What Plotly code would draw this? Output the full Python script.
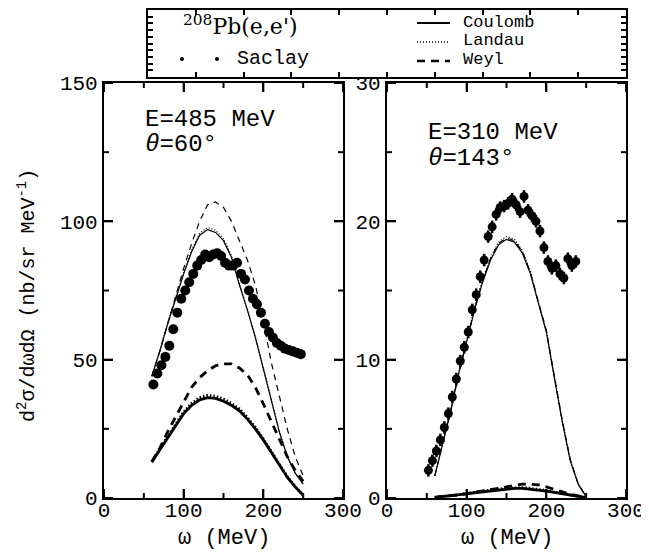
import plotly.graph_objects as go

# ---------------- data ----------------
omega_theory = [60, 70, 80, 90, 100, 110, 120, 130, 140, 150, 160, 170, 180, 190, 200, 210, 220, 230, 240, 250]

# E=485 MeV, theta=60 deg
omega_saclay_485 = [62, 67, 72, 77, 82, 87, 92, 97, 102, 107, 112, 117, 122, 127, 132, 137, 142, 147, 152,
                    157, 162, 167, 172, 177, 182, 187, 192, 197, 202, 207, 212, 217, 222, 227, 232, 237, 242, 247]
xs_saclay_485 = [41, 45, 48, 51, 55, 61, 67, 72, 75, 78, 81, 84, 86, 88, 87, 88, 88.5, 87.5, 85,
                 84, 84, 85, 81, 79, 75, 72, 70, 67, 63, 60, 58, 56, 55, 54, 53.5, 53, 52.5, 52]
coulomb_485_thin = [44, 53, 63, 72, 81, 89, 95, 97, 96, 93, 87, 77, 68, 58, 47, 35, 24, 15, 9, 5]
landau_485_thin = [44, 53.2, 63.3, 72.4, 81.5, 89.6, 95.7, 97.8, 96.8, 93.7, 87.6, 77.5, 68.3, 58.2, 47.1, 35.1, 24.1, 15.1, 9.1, 5.1]
weyl_485_thin = [44, 53, 63, 73, 83, 92, 100, 106, 107, 105, 100, 93, 86, 77, 64, 49, 37, 25, 15, 8]
coulomb_485_thick = [13, 17.5, 22, 26.5, 30.5, 33.5, 35.5, 36.3, 36, 35, 33.5, 31.5, 28.5, 25, 21, 16.5, 12, 7.5, 4, 1]
landau_485_thick = [13.2, 17.8, 22.4, 27, 31.1, 34.2, 36.3, 37.1, 36.8, 35.8, 34.2, 32.2, 29.1, 25.5, 21.4, 16.8, 12.2, 7.7, 4.1, 1.1]
weyl_485_thick = [13, 18, 24, 29.5, 35, 40, 43.5, 46, 47.8, 48.5, 48.5, 47, 44.5, 40, 34, 27.5, 21, 15, 10, 6]

# E=310 MeV, theta=143 deg
omega_saclay_310 = [52, 57, 62, 67, 72, 77, 82, 87, 92, 97, 102, 107, 112, 117, 122, 127, 132, 137, 142,
                    147, 152, 157, 162, 167, 172, 177, 182, 187, 192, 197, 202, 207, 212, 217, 222, 227, 232, 237]
xs_saclay_310 = [2.0, 2.7, 3.4, 4.2, 5.1, 6.1, 7.3, 8.6, 9.9, 10.9, 12.0, 13.6, 14.7, 16.0, 17.2, 18.9, 19.6, 20.5, 21.0,
                 21.1, 21.3, 21.6, 21.2, 20.7, 21.8, 20.8, 20.4, 20.0, 19.3, 18.1, 17.1, 16.6, 16.8, 16.2, 15.9, 17.3, 16.8, 17.1]
err_saclay_310 = [0.45] * len(xs_saclay_310)
coulomb_310_thin = [1.6, 3.9, 6.3, 9.0, 11.4, 13.6, 15.6, 17.2, 18.3, 18.7, 18.5, 17.7, 16.2, 14.0, 12.0, 8.7, 5.5, 2.7, 1.0, 0.1]
landau_310_thin = [1.6, 3.9, 6.4, 9.1, 11.5, 13.8, 15.8, 17.4, 18.5, 18.9, 18.7, 17.9, 16.4, 14.1, 12.1, 8.8, 5.6, 2.8, 1.0, 0.1]
weyl_310_thin = [1.6, 3.9, 6.3, 9.0, 11.4, 13.7, 15.7, 17.3, 18.4, 18.8, 18.6, 17.8, 16.3, 14.1, 12.1, 8.8, 5.6, 2.8, 1.0, 0.1]
coulomb_310_thick = [0.05, 0.1, 0.15, 0.22, 0.3, 0.38, 0.45, 0.53, 0.6, 0.66, 0.7, 0.7, 0.65, 0.58, 0.5, 0.4, 0.3, 0.2, 0.1, 0.02]
landau_310_thick = [0.05, 0.1, 0.16, 0.24, 0.32, 0.41, 0.49, 0.57, 0.65, 0.71, 0.75, 0.75, 0.7, 0.63, 0.54, 0.43, 0.32, 0.21, 0.11, 0.03]
weyl_310_thick = [0.05, 0.1, 0.15, 0.23, 0.32, 0.41, 0.5, 0.6, 0.7, 0.8, 0.9, 1.0, 1.0, 0.95, 0.8, 0.62, 0.45, 0.28, 0.15, 0.05]

x_ticks = [0, 100, 200, 300]
y_ticks_485 = [0, 50, 100, 150]
y_ticks_310 = [0, 10, 20, 30]

# ---------------- figure ----------------
MONO = "Liberation Mono"
SERIF = "DejaVu Serif"
OFF = 8                      # page body margin of the HTML output
W, H = 649 - OFF, 552 - OFF
ML, MR, MT, MB = 104 - OFF, 23, 10 - OFF, 54
PW, PH = W - ML - MR, H - MT - MB


def px(xp):   # picture pixel x -> paper
    return (xp - OFF - ML) / PW


def py(yp):   # picture pixel y -> paper
    return (H - MB - (yp - OFF)) / PH


fig = go.Figure()

THIN, THICK = 1.2, 2.8


def add_curves(xa, ya, c_thin, l_thin, w_thin, c_thick, l_thick, w_thick):
    specs = [
        (c_thin, THIN, "solid"), (l_thin, THIN, "1px,2px"), (w_thin, THIN, "6px,5px"),
        (c_thick, THICK, "solid"), (l_thick, THICK, "1.5px,2px"), (w_thick, THICK, "8px,6px"),
    ]
    for ys, wdt, dash in specs:
        fig.add_trace(go.Scatter(x=omega_theory, y=ys, mode="lines", xaxis=xa, yaxis=ya,
                                 line=dict(color="black", width=wdt, dash=dash),
                                 showlegend=False, hoverinfo="skip"))


add_curves("x", "y", coulomb_485_thin, landau_485_thin, weyl_485_thin,
           coulomb_485_thick, landau_485_thick, weyl_485_thick)
fig.add_trace(go.Scatter(x=omega_saclay_485, y=xs_saclay_485, mode="markers", xaxis="x", yaxis="y",
                         marker=dict(color="black", size=10, line=dict(width=0)), showlegend=False))

add_curves("x2", "y2", coulomb_310_thin, landau_310_thin, weyl_310_thin,
           coulomb_310_thick, landau_310_thick, weyl_310_thick)
fig.add_trace(go.Scatter(x=omega_saclay_310, y=xs_saclay_310, mode="markers", xaxis="x2", yaxis="y2",
                         error_y=dict(type="data", array=err_saclay_310, color="black", thickness=2.5, width=0),
                         marker=dict(color="black", size=9, line=dict(width=0)), showlegend=False))

# empty trace so that the legend frame axes are drawn
fig.add_trace(go.Scatter(x=[], y=[], xaxis="x3", yaxis="y3", showlegend=False, hoverinfo="skip"))

panel_top = py(83)
xdom1 = [0, px(343)]
xdom2 = [px(387), 1]

tickfont = dict(family=MONO, size=21, color="black")
frame = dict(showline=True, linecolor="black", linewidth=2.2, mirror="allticks",
             ticks="inside", ticklen=9, tickwidth=2, tickcolor="black",
             showgrid=False, zeroline=False)

fig.update_layout(
    template="none",
    width=W, height=H, margin=dict(l=ML, r=MR, t=MT, b=MB),
    paper_bgcolor="white", plot_bgcolor="white", showlegend=False,
    xaxis=dict(domain=xdom1, range=[0, 300], tickmode="array", tickvals=x_ticks,
               anchor="y", ticklabelstandoff=-8, tickfont=tickfont, **frame),
    yaxis=dict(domain=[0, panel_top], range=[0, 150], tickmode="array", tickvals=y_ticks_485,
               anchor="x", tickfont=tickfont, **frame),
    xaxis2=dict(domain=xdom2, range=[0, 300], tickmode="array", tickvals=x_ticks,
                anchor="y2", ticklabelstandoff=-8, tickfont=tickfont, **frame),
    yaxis2=dict(domain=[0, panel_top], range=[0, 30], tickmode="array", tickvals=y_ticks_310,
                anchor="x2", tickfont=tickfont, **frame),
    xaxis3=dict(domain=[px(148), 1], range=[0, 10], anchor="y3", showline=True, linecolor="black",
                linewidth=2.2, mirror="allticks", ticks="inside", ticklen=5, dtick=1, tickwidth=1.5,
                tickcolor="black", showticklabels=False, showgrid=False, zeroline=False, fixedrange=True),
    yaxis3=dict(domain=[py(77), py(10)], range=[0, 10], anchor="x3", showline=True, linecolor="black",
                linewidth=2.2, mirror="allticks", ticks="inside", ticklen=5, dtick=1, tickwidth=1.5,
                tickcolor="black", showticklabels=False, showgrid=False, zeroline=False, fixedrange=True),
)

shapes = []


# tick marks on all four sides of each panel (major from the tick lists, minor half way between)
def panel_ticks(xa, ya, xt, yt):
    def with_minor(t):
        out = [(v, 9) for v in t]
        out += [((a + b) / 2, 5) for a, b in zip(t[:-1], t[1:])]
        return out

    for v, ln in with_minor(xt):
        for anc, sgn in ((0, 1), (1, -1)):
            shapes.append(dict(type="line", xref=xa, yref=ya + " domain", x0=v, x1=v,
                               ysizemode="pixel", yanchor=anc, y0=0, y1=sgn * ln,
                               line=dict(color="black", width=2)))
    for v, ln in with_minor(yt):
        for anc, sgn in ((0, 1), (1, -1)):
            shapes.append(dict(type="line", yref=ya, xref=xa + " domain", y0=v, y1=v,
                               xsizemode="pixel", xanchor=anc, x0=0, x1=sgn * ln,
                               line=dict(color="black", width=2)))


panel_ticks("x", "y", x_ticks, y_ticks_485)
panel_ticks("x2", "y2", x_ticks, y_ticks_310)

# legend box content
ann = []
ann.append(dict(x=px(240), y=py(25), xref="paper", yref="paper", showarrow=False,
                text="<sup>208</sup>Pb(e,e')", font=dict(family=SERIF, size=22, color="black"),
                xanchor="center", yanchor="middle"))
ann.append(dict(x=px(235), y=py(58), xref="paper", yref="paper", showarrow=False,
                text="Saclay", font=dict(family=MONO, size=20, color="black"), xanchor="left", yanchor="middle"))
for label, yy in [("Coulomb", 22), ("Landau", 41), ("Weyl", 60)]:
    ann.append(dict(x=px(461), y=py(yy), xref="paper", yref="paper", showarrow=False,
                    text=label, font=dict(family=MONO, size=17, color="black"), xanchor="left", yanchor="middle"))

for xd in (182, 217):
    shapes.append(dict(type="circle", xref="paper", yref="paper",
                       x0=px(xd - 2), x1=px(xd + 2), y0=py(59 + 2), y1=py(59 - 2),
                       fillcolor="black", line=dict(width=0)))
for yy, dash, wdt in [(23, "solid", 2), (42, "1px,2px", 1.5), (61, "8px,6px", 2.5)]:
    shapes.append(dict(type="line", xref="paper", yref="paper", x0=px(417), x1=px(450), y0=py(yy), y1=py(yy),
                       line=dict(color="black", width=wdt, dash=dash)))

# panel annotations
for xref, yref, lines in [("x domain", "y domain", [("E=485 MeV", 0.913), ("<i>θ</i>=60°", 0.852)]),
                          ("x2 domain", "y2 domain", [("E=310 MeV", 0.88), ("<i>θ</i>=143°", 0.817)])]:
    for txt, yv in lines:
        ann.append(dict(x=0.163, y=yv, xref=xref, yref=yref, showarrow=False, text=txt,
                        font=dict(family=MONO, size=24, color="black"), xanchor="left", yanchor="middle"))

# axis titles
for xd in (sum(xdom1) / 2, sum(xdom2) / 2):
    ann.append(dict(x=xd, y=py(538), xref="paper", yref="paper", showarrow=False, text="ω (MeV)",
                    font=dict(family=MONO, size=22, color="black"), xanchor="center", yanchor="middle"))
ann.append(dict(x=px(27), y=py(296), xref="paper", yref="paper", showarrow=False, textangle=-90,
                text="d<sup>2</sup>σ/dωdΩ (nb/sr MeV<sup>-1</sup>)",
                font=dict(family=MONO, size=20, color="black"), xanchor="center", yanchor="middle"))

fig.update_layout(annotations=ann, shapes=shapes)
fig.write_html("out.html")
